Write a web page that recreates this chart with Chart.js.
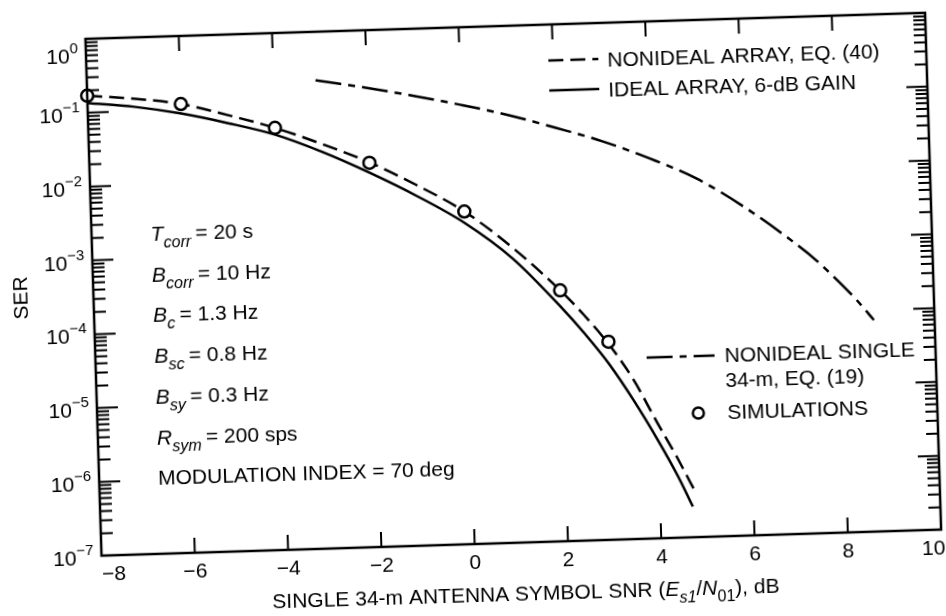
<!DOCTYPE html>
<html>
<head>
<meta charset="utf-8">
<script src="https://cdn.jsdelivr.net/npm/chart.js@4.4.0/dist/chart.umd.min.js"></script>
<style>
    html, body { margin: 0; padding: 0; background: #fff; overflow: hidden; }
    /* the printed figure is scanned slightly skewed */
    #ser_chart { display: block; transform: rotate(-1.78deg); transform-origin: 473px 308px; }
</style>
</head>
<body>
<canvas id="ser_chart" width="946" height="616"></canvas>
<script>
// single 34-m antenna symbol SNR (dB) and symbol error rate
const sim_snr = [-8, -6, -4, -2, 0, 2, 3];
const sim_ser = [0.17, 0.12, 0.052, 0.016, 0.0032, 2.5e-4, 4.8e-5];

const nonideal_array_snr = [-8, -7, -6, -5, -4, -3, -2, -1, 0, 1, 2, 2.5, 3, 3.5, 4, 4.4, 4.77];
const nonideal_array_ser = [0.17, 0.148, 0.12, 0.081, 0.052, 0.030, 0.0162, 0.0076, 0.0032, 0.001,
    2.5e-4, 1.12e-4, 4.5e-5, 1.48e-5, 3.6e-6, 1.2e-6, 4e-7];

const ideal_array_snr = [-8, -7, -6, -5, -4, -3, -2, -1, 0, 1, 2, 2.5, 3, 3.5, 4, 4.4, 4.7];
const ideal_array_ser = [0.135, 0.115, 0.089, 0.063, 0.042, 0.0234, 0.0117, 0.0054, 0.00224, 7.1e-4,
    1.5e-4, 6.3e-5, 2.4e-5, 7.6e-6, 2.1e-6, 6.8e-7, 2.6e-7];

const nonideal_single_snr = [-3.1, -2, -1, 0, 1, 2, 3, 4, 5, 6, 7, 7.5, 8, 8.4, 8.7];
const nonideal_single_ser = [0.22, 0.165, 0.123, 0.089, 0.062, 0.040, 0.025, 0.014, 0.0071, 0.0028,
    9.3e-4, 5e-4, 2.4e-4, 1.26e-4, 7.3e-5];

// tick labels
const x_tick_values = [-8, -6, -4, -2, 0, 2, 4, 6, 8, 10];
const y_tick_exponents = [0, -1, -2, -3, -4, -5, -6, -7];

// texts
const y_title = "SER";
const x_title_parts = [
    {text: "SINGLE 34-m ANTENNA SYMBOL SNR (", style: ""},
    {text: "E", style: "italic"},
    {text: "s1", style: "italic", sub: true},
    {text: "/", style: ""},
    {text: "N", style: "italic"},
    {text: "01", style: "", sub: true},
    {text: "), dB", style: ""}
];
const param_symbols = ["T", "B", "B", "B", "B", "R", ""];
const param_subscripts = ["corr", "corr", "c", "sc", "sy", "sym", ""];
const param_values = ["= 20 s", "= 10 Hz", "= 1.3 Hz", "= 0.8 Hz", "= 0.3 Hz", "= 200 sps", "MODULATION INDEX = 70 deg"];
const series_labels = ["SIMULATIONS", "NONIDEAL ARRAY, EQ. (40)", "IDEAL ARRAY, 6-dB GAIN", "NONIDEAL SINGLE|34-m, EQ. (19)"];

const FONT = '"Liberation Sans", Arial, Helvetica, sans-serif';

function toPoints(xs, ys) {
    let pts = [];
    for (let i = 0; i < xs.length; i++) {
        pts.push({x: xs[i], y: ys[i]});
    }
    return pts;
}

// writes a row of text pieces (italic / subscript) and returns the end x
function drawParts(ctx, parts, x, y, size) {
    for (const p of parts) {
        let s = p.sub ? Math.round(size * 0.76) : size;
        ctx.font = (p.style ? p.style + " " : "") + s + "px " + FONT;
        ctx.fillText(p.text, x, y + (p.sub ? 7 : 0));
        x += ctx.measureText(p.text).width;
    }
    return x;
}

function partsWidth(ctx, parts, size) {
    let w = 0;
    for (const p of parts) {
        let s = p.sub ? Math.round(size * 0.76) : size;
        ctx.font = (p.style ? p.style + " " : "") + s + "px " + FONT;
        w += ctx.measureText(p.text).width;
    }
    return w;
}

function legendLine(ctx, dataset, x1, x2, y) {
    ctx.save();
    ctx.lineWidth = dataset.borderWidth;
    ctx.setLineDash(dataset.borderDash || []);
    ctx.beginPath();
    ctx.moveTo(x1, y);
    ctx.lineTo(x2, y);
    ctx.stroke();
    ctx.restore();
}

// frame with inward ticks, tick labels, titles, notes and legends
const frame_and_text = {
    id: 'frame_and_text',
    afterDraw: (chart) => {
        const ctx = chart.ctx;
        const area = chart.chartArea;
        const xs = chart.scales.x;
        const ys = chart.scales.y;
        const sets = chart.data.datasets;
        ctx.save();
        ctx.strokeStyle = '#000';
        ctx.fillStyle = '#000';

        ctx.lineWidth = 2.5;
        ctx.strokeRect(area.left, area.top, area.right - area.left, area.bottom - area.top);

        ctx.lineWidth = 2;
        ctx.beginPath();
        for (const v of x_tick_values) {
            if (v <= xs.min || v >= xs.max) continue;
            let px = xs.getPixelForValue(v);
            ctx.moveTo(px, area.bottom);
            ctx.lineTo(px, area.bottom - 15);
            ctx.moveTo(px, area.top);
            ctx.lineTo(px, area.top + 15);
        }
        for (const e of y_tick_exponents) {
            let py = ys.getPixelForValue(Math.pow(10, e));
            ctx.moveTo(area.left, py);
            ctx.lineTo(area.left + 21, py);
            ctx.moveTo(area.right, py);
            ctx.lineTo(area.right - 21, py);
            if (e === 0) continue;
            for (let k = 2; k <= 9; k++) {
                let pm = ys.getPixelForValue(k * Math.pow(10, e));
                ctx.moveTo(area.left, pm);
                ctx.lineTo(area.left + 12, pm);
                ctx.moveTo(area.right, pm);
                ctx.lineTo(area.right - 12, pm);
            }
        }
        ctx.stroke();

        // y tick labels, 10 with a raised exponent
        ctx.textBaseline = 'alphabetic';
        ctx.textAlign = 'left';
        for (const e of y_tick_exponents) {
            let py = Math.max(ys.getPixelForValue(Math.pow(10, e)), area.top + 15);
            let exp_text = e === 0 ? "0" : "\u2212" + (-e);
            ctx.font = "15px " + FONT;
            let ew = ctx.measureText(exp_text).width;
            ctx.font = "21px " + FONT;
            let bw = ctx.measureText("10").width;
            let right = area.left - 8;
            ctx.fillText("10", right - ew - bw, py + 9);
            ctx.font = "15px " + FONT;
            ctx.fillText(exp_text, right - ew, py - 1);
        }

        // x tick labels, the end ones pulled in from the corners
        ctx.textAlign = 'center';
        ctx.font = "21px " + FONT;
        for (const v of x_tick_values) {
            let label = v < 0 ? "\u2212" + (-v) : String(v);
            let px = Math.min(Math.max(xs.getPixelForValue(v), area.left + 12), area.right - 8);
            ctx.fillText(label, px, area.bottom + 25);
        }

        // axis titles
        ctx.textAlign = 'left';
        let tw = partsWidth(ctx, x_title_parts, 21);
        drawParts(ctx, x_title_parts, 517 - tw / 2, 602, 21);

        ctx.save();
        ctx.translate(22, 284);
        ctx.rotate(-Math.PI / 2);
        ctx.textAlign = 'center';
        ctx.textBaseline = 'middle';
        ctx.font = "21px " + FONT;
        ctx.fillText(y_title, 0, 0);
        ctx.restore();

        // link parameters
        for (let i = 0; i < param_values.length; i++) {
            let y = 231 + i * 40.7;
            let parts = [];
            if (param_symbols[i]) {
                parts.push({text: param_symbols[i], style: "italic"});
                parts.push({text: param_subscripts[i] + " ", style: "italic", sub: true});
            }
            parts.push({text: param_values[i], style: ""});
            drawParts(ctx, parts, 153, y, 21);
        }

        // legend, upper right
        ctx.font = "21px " + FONT;
        legendLine(ctx, sets[1], 556, 606, 63);
        ctx.fillText(series_labels[1], 615, 71);
        legendLine(ctx, sets[2], 556, 606, 93);
        ctx.fillText(series_labels[2], 615, 101);

        // legend, lower right
        legendLine(ctx, sets[3], 645, 713, 363);
        let single_lines = series_labels[3].split("|");
        ctx.fillText(single_lines[0], 723, 370);
        ctx.fillText(single_lines[1], 723, 395);
        ctx.lineWidth = 2.5;
        ctx.beginPath();
        ctx.arc(695, 420, 5.5, 0, Math.PI * 2);
        ctx.stroke();
        ctx.fillText(series_labels[0], 724, 427);

        ctx.restore();
    }
};

let ser_chart = new Chart(document.getElementById("ser_chart"), {
    type: 'scatter',
    data: {
        datasets: [
            {
                label: series_labels[0],
                data: toPoints(sim_snr, sim_ser),
                showLine: false,
                pointRadius: 6,
                pointBackgroundColor: '#fff',
                pointBorderColor: '#000',
                pointBorderWidth: 2.5,
                clip: false
            },
            {
                label: series_labels[1],
                data: toPoints(nonideal_array_snr, nonideal_array_ser),
                showLine: true,
                borderColor: '#000',
                borderWidth: 2.5,
                borderDash: [15, 7],
                pointRadius: 0,
                cubicInterpolationMode: 'monotone'
            },
            {
                label: series_labels[2],
                data: toPoints(ideal_array_snr, ideal_array_ser),
                showLine: true,
                borderColor: '#000',
                borderWidth: 2.5,
                pointRadius: 0,
                cubicInterpolationMode: 'monotone'
            },
            {
                label: series_labels[3],
                data: toPoints(nonideal_single_snr, nonideal_single_ser),
                showLine: true,
                borderColor: '#000',
                borderWidth: 2.5,
                borderDash: [26, 7, 7, 7],
                pointRadius: 0,
                cubicInterpolationMode: 'monotone'
            }
        ]
    },
    options: {
        responsive: false,
        animation: false,
        devicePixelRatio: 1,
        layout: {
            padding: {left: 94, right: 12, top: 27, bottom: 72}
        },
        scales: {
            x: {type: 'linear', min: -8, max: 10, display: false},
            y: {type: 'logarithmic', min: 1e-7, max: 1, display: false}
        },
        plugins: {
            legend: {display: false},
            tooltip: {enabled: false}
        }
    },
    plugins: [frame_and_text]
});
</script>
</body>
</html>
